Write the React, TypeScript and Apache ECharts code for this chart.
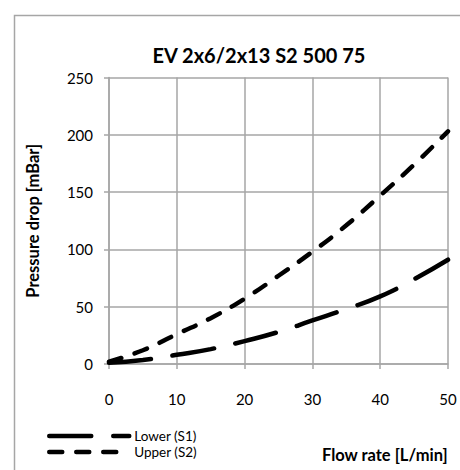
import { useEffect, useRef } from "react";
import * as echarts from "echarts";

const title = "EV 2x6/2x13 S2 500 75";
const xAxisName = "Flow rate [L/min]";
const yAxisName = "Pressure drop [mBar]";
const flowRate = [0, 5, 10, 15, 20, 25, 30, 35, 40, 45, 50];
const lowerS1 = [1, 3.5, 8, 13, 20, 28, 38, 48, 59, 74, 91];
const upperS2 = [2, 12, 26, 40, 57, 77, 98, 121, 147, 174, 203];
const seriesNames = ["Lower (S1)", "Upper (S2)"];

const FONT = "Lato, 'Open Sans', sans-serif";

export default function App() {
  const ref = useRef<HTMLDivElement>(null);
  useEffect(() => {
    if (!ref.current) return;
    const chart = echarts.init(ref.current, undefined, { renderer: "svg" });
    const pairs = (ys: number[]) => flowRate.map((x, i) => [x, ys[i]]);
    chart.setOption({
      animation: false,
      backgroundColor: "#ffffff",
      textStyle: { fontFamily: FONT },
      title: {
        text: title,
        left: 254,
        top: 40,
        textAlign: "center",
        textStyle: { fontFamily: FONT, fontSize: 20, fontWeight: "bold", color: "#000" },
      },
      graphic: [
        {
          type: "rect",
          shape: { x: 14.5, y: 15.5, width: 600, height: 600 },
          style: { fill: "none", stroke: "#a6a6a6", lineWidth: 1.5 },
          silent: true,
        },
        {
          type: "text",
          right: 12,
          top: 446,
          style: { text: xAxisName, font: `bold 16.5px ${FONT}`, fill: "#000" },
        },
      ],
      legend: {
        orient: "vertical",
        left: 47,
        top: 429,
        padding: 0,
        itemWidth: 80,
        itemHeight: 14,
        itemGap: 2,
        data: seriesNames,
        itemStyle: { color: "transparent", borderWidth: 0, opacity: 0 },
        lineStyle: { width: 4.5, type: "inherit", cap: "round" },
        textStyle: { fontFamily: FONT, fontSize: 13.5, color: "#000", lineHeight: 14 },
      },
      grid: { left: 109, right: 12, top: 77.5, bottom: 106 },
      xAxis: {
        type: "value",
        min: 0,
        max: 50,
        interval: 10,
        axisLine: { show: true, lineStyle: { color: "#a6a6a6", width: 1.5 } },
        axisTick: { show: true, length: 5, lineStyle: { color: "#a6a6a6", width: 1.5 } },
        axisLabel: { margin: 27, fontFamily: FONT, fontSize: 15, color: "#000" },
        splitLine: { show: true, lineStyle: { color: "#a6a6a6", width: 1.5 } },
      },
      yAxis: {
        type: "value",
        min: 0,
        max: 250,
        interval: 50,
        name: yAxisName,
        nameLocation: "middle",
        nameGap: 68,
        nameTextStyle: { fontFamily: FONT, fontSize: 16.5, fontWeight: "bold", color: "#000" },
        axisLine: { show: true, lineStyle: { color: "#a6a6a6", width: 1.5 } },
        axisTick: { show: true, length: 5, lineStyle: { color: "#a6a6a6", width: 1.5 } },
        axisLabel: { margin: 16, fontFamily: FONT, fontSize: 15, color: "#000" },
        splitLine: { show: true, lineStyle: { color: "#a6a6a6", width: 1.5 } },
      },
      series: [
        {
          name: seriesNames[0],
          type: "line",
          smooth: true,
          symbol: "none",
          data: pairs(lowerS1),
          color: "#000",
          lineStyle: { color: "#000", width: 4.5, type: [42, 22], cap: "round" },
        },
        {
          name: seriesNames[1],
          type: "line",
          smooth: true,
          symbol: "none",
          data: pairs(upperS2),
          color: "#000",
          lineStyle: { color: "#000", width: 4.5, type: [13, 14], cap: "round" },
        },
      ],
    });
    return () => chart.dispose();
  }, []);
  return (
    <div
      ref={ref}
      style={{ position: "fixed", left: 0, top: 0, width: 460, height: 470 }}
    />
  );
}
